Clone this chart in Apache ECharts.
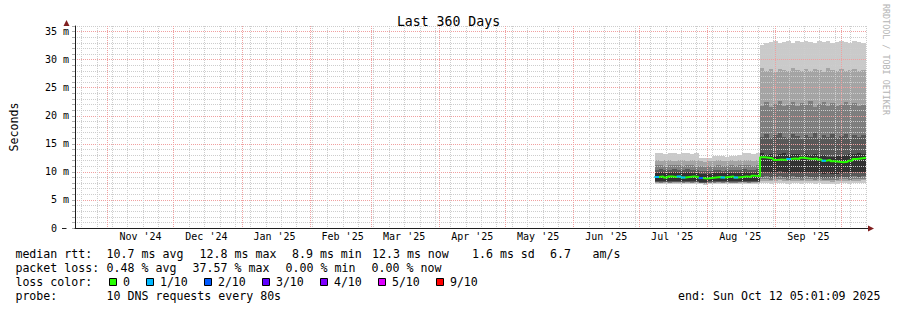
<!DOCTYPE html>
<html><head><meta charset="utf-8">
<script src="https://cdn.jsdelivr.net/npm/echarts@6/dist/echarts.min.js"></script>
<style>html,body{margin:0;padding:0;background:#fff}#c{width:897px;height:310px}</style>
</head><body><div id="c"></div>
<script>
// ---------------- DATA ----------------
const chartTitle = 'Last 360 Days';
const yAxisTitle = 'Seconds';
const endTimeStr = '2025-10-12 05:01:09';
const spanDays = 360;

// interval start dates (2-day buckets), last entry = end of last bucket
const dates = [
 '2025-07-08','2025-07-10','2025-07-12','2025-07-14','2025-07-16','2025-07-18','2025-07-20','2025-07-22',
 '2025-07-24','2025-07-26','2025-07-28','2025-07-30','2025-08-01','2025-08-03','2025-08-05','2025-08-07',
 '2025-08-09','2025-08-11','2025-08-13','2025-08-15','2025-08-17','2025-08-19','2025-08-21','2025-08-23',
 '2025-08-25','2025-08-27','2025-08-29','2025-08-31','2025-09-02','2025-09-04','2025-09-06','2025-09-08',
 '2025-09-10','2025-09-12','2025-09-14','2025-09-16','2025-09-18','2025-09-20','2025-09-22','2025-09-24',
 '2025-09-26','2025-09-28','2025-09-30','2025-10-02','2025-10-04','2025-10-06','2025-10-08','2025-10-10',
 '2025-10-12 05:01:09'
];
// sorted ping RTTs (ms), ping1 = fastest ... ping10 = slowest
const ping10 = [13.3,13.4,13.2,13.4,13.3,13.2,13.4,13.3,13.2,13.3,12.5,12.4,12.4,12.9,12.8,12.9,12.7,12.9,12.8,13.0,13.3,13.4,13.2,13.4,
                32.7,33.0,33.2,33.4,32.9,33.2,33.3,33.0,33.4,33.1,33.3,33.2,32.9,33.3,33.1,33.4,33.0,33.2,33.3,33.1,32.9,33.3,33.2,33.0];
const ping9  = [12.1,12.0,12.2,12.1,12.0,12.1,12.2,12.0,12.1,12.1,11.9,11.8,11.9,12.0,12.1,11.9,12.0,12.1,12.0,12.1,12.2,12.1,12.0,12.2,
                28.5,28.0,28.3,27.8,28.4,28.1,27.9,28.6,28.2,27.9,28.4,28.0,28.3,28.1,27.8,28.5,28.2,28.0,28.4,27.9,28.2,28.3,27.9,28.1];
const ping8  = [11.2,11.3,11.1,11.2,11.3,11.2,11.1,11.3,11.2,11.1,11.0,10.9,11.0,11.1,11.2,11.0,11.1,11.2,11.1,11.2,11.3,11.2,11.1,11.2,
                21.8,22.4,21.6,22.1,22.6,21.7,22.0,22.5,21.8,22.2,21.9,22.7,21.6,22.1,22.4,21.8,22.3,21.7,22.0,22.5,21.9,22.2,21.8,22.0];
const ping7  = [10.4,10.5,10.3,10.4,10.5,10.4,10.3,10.5,10.4,10.3,10.2,10.1,10.2,10.3,10.4,10.2,10.3,10.4,10.3,10.4,10.5,10.4,10.3,10.5,
                16.2,16.8,16.0,16.5,17.0,16.3,16.1,16.7,16.4,15.9,16.6,16.2,16.9,16.0,16.5,16.3,16.8,16.1,16.4,16.7,16.0,16.5,16.2,16.6];
const ping6  = [9.85,9.9,9.8,9.85,9.9,9.85,9.8,9.9,9.85,9.8,9.7,9.6,9.7,9.8,9.85,9.75,9.8,9.85,9.8,9.85,9.9,9.85,9.8,9.9,
                13.3,13.0,13.2,12.9,13.1,13.3,13.0,13.2,13.1,12.9,13.2,13.0,13.1,12.8,13.0,12.7,12.6,12.8,12.9,13.0,13.1,13.2,13.3,13.1];
const ping5  = [8.4,8.3,8.4,8.3,8.4,8.4,8.3,8.4,8.3,8.4,8.2,8.2,8.3,8.3,8.4,8.3,8.4,8.3,8.3,8.4,8.4,8.3,8.4,8.4,
                9.9,10.0,9.8,9.9,10.1,9.9,9.8,10.0,9.9,9.8,10.0,9.9,9.8,9.9,9.7,9.8,9.6,9.7,9.8,9.9,9.8,10.0,9.9,10.0];
const ping4  = [8.25,8.2,8.25,8.2,8.25,8.25,8.2,8.25,8.2,8.25,8.1,8.1,8.15,8.2,8.25,8.2,8.25,8.2,8.2,8.25,8.25,8.2,8.25,8.25,
                9.1,9.2,9.0,9.1,9.2,9.1,9.0,9.2,9.1,9.0,9.2,9.1,9.0,9.1,9.0,9.0,8.9,9.0,9.1,9.1,9.0,9.2,9.1,9.2];
const ping3  = [8.15,8.1,8.15,8.1,8.15,8.15,8.1,8.15,8.1,8.15,8.05,8.0,8.05,8.1,8.15,8.1,8.15,8.1,8.1,8.15,8.15,8.1,8.15,8.15,
                8.7,8.7,8.6,8.7,8.8,8.7,8.6,8.7,8.7,8.6,8.7,8.7,8.6,8.7,8.6,8.6,8.5,8.6,8.7,8.7,8.6,8.7,8.7,8.8];
const ping2  = [8.05,8.0,8.05,8.0,8.05,8.05,8.0,8.05,8.0,8.05,7.95,7.9,7.95,8.0,8.05,8.0,8.05,8.0,8.0,8.05,8.05,8.0,8.05,8.05,
                8.4,8.4,8.3,8.4,8.5,8.4,8.3,8.4,8.4,8.3,8.4,8.4,8.3,8.4,8.3,8.3,8.2,8.3,8.4,8.4,8.3,8.4,8.4,8.5];
const ping1  = [7.9,7.85,7.9,7.85,7.9,7.9,7.85,7.9,7.85,7.9,7.8,7.75,7.8,7.85,7.9,7.85,7.9,7.85,7.85,7.9,7.9,7.85,7.9,7.9,
                8.0,8.0,7.9,8.0,8.1,8.0,7.9,8.0,8.0,7.9,8.0,8.0,7.9,8.0,7.9,7.9,7.8,7.9,8.0,8.0,7.9,8.0,8.0,8.1];
const median = [9.1,9.2,9.0,9.2,9.1,9.2,9.0,9.1,9.2,9.1,8.9,8.8,8.9,9.0,9.1,9.0,9.1,9.2,9.0,9.1,9.2,9.1,9.3,9.2,
                12.6,12.5,12.4,12.1,12.2,12.1,12.3,12.4,12.3,12.5,12.4,12.3,12.4,12.2,12.0,12.1,11.9,11.8,11.7,11.8,12.0,12.3,12.4,12.5];
// packet loss per bucket, in tenths (0..10)
const lossTenths = [1,0,0,0,0,1,1,0,0,0,2,0,0,0,0,1,0,0,1,0,0,0,0,0,
                    0,0,0,0,0,0,1,0,0,0,0,0,0,0,1,0,0,0,0,0,0,0,0,0];

// axis ticks / labels
const monthStarts = ['2024-11-01','2024-12-01','2025-01-01','2025-02-01','2025-03-01','2025-04-01',
                     '2025-05-01','2025-06-01','2025-07-01','2025-08-01','2025-09-01','2025-10-01'];
const monthLabelDates = ['2024-11-16','2024-12-16','2025-01-16','2025-02-16','2025-03-16','2025-04-16',
                         '2025-05-16','2025-06-16','2025-07-16','2025-08-16','2025-09-16'];
const monthLabels = ["Nov '24","Dec '24","Jan '25","Feb '25","Mar '25","Apr '25","May '25","Jun '25","Jul '25","Aug '25","Sep '25"];
const firstWeekLine = '2024-10-20';
const yTickStep = 5;

// legend texts
const rttLabel = 'median rtt:';
const rttStats = ['10.7 ms avg','12.8 ms max','8.9 ms min','12.3 ms now','1.6 ms sd','6.7','am/s'];
const lossLabel = 'packet loss:';
const lossStats = ['0.48 % avg','37.57 % max','0.00 % min','0.00 % now'];
const lossColorLabel = 'loss color:';
const lossLegend = ['0','1/10','2/10','3/10','4/10','5/10','9/10'];
const lossColors = ['#26ff00','#00b8ff','#0059ff','#5e00ff','#7e00ff','#dd00ff','#ff0000'];
const probeLabel = 'probe:';
const probeText = '10 DNS requests every 80s';
const endText = 'end: Sun Oct 12 05:01:09 2025';
const watermark = 'RRDTOOL / TOBI OETIKER';

// ---------------- LAYOUT / STYLE ----------------
const FONT = 'DejaVu Sans Mono';
const GRID = {left: 66, top: 26, width: 800, height: 202};
const Y_MAX = 36;
const MINOR = '#cdcdcd', MAJOR = '#f0a0a0';
const smokeColors = ['#cacaca','#a4a4a4','#7e7e7e','#585858','#323232'];
const rttX = [106.6, 199.6, 292, 372, 472, 550, 592.6];
const lossX = [106.6, 192.6, 285.6, 371.6];
const rowY = [254.3, 268.3, 282.3, 296.3];

function ts(s) {
  const parts = s.split(' ');
  const d = parts[0].split('-').map(Number);
  let h = 0, mi = 0, se = 0;
  if (parts[1]) { const t = parts[1].split(':').map(Number); h = t[0]; mi = t[1]; se = t[2]; }
  return Date.UTC(d[0], d[1] - 1, d[2], h, mi, se);
}
const endTime = ts(endTimeStr);
const startTime = endTime - spanDays * 86400000;
const T = dates.map(ts);
function stepData(vals) {
  const out = vals.map((v, i) => [T[i], v]);
  out.push([T[T.length - 1], vals[vals.length - 1]]);
  return out;
}
function lossLevel(v) { return v > 5 ? 6 : v; }

const series = [];
const pings = [ping1, ping2, ping3, ping4, ping5, ping6, ping7, ping8, ping9, ping10];
// smoke: band b spans ping(b+1) .. ping(10-b), one rectangle per time bucket
function bandRender(color) {
  return function (params, api) {
    const a = api.coord([api.value(0), api.value(3)]);
    const c = api.coord([api.value(1), api.value(2)]);
    const x0 = Math.round(a[0]), x1 = Math.round(c[0]);
    const y0 = Math.round(a[1]), y1 = Math.round(c[1]);
    return {type: 'rect', shape: {x: x0, y: y0, width: x1 - x0, height: y1 - y0}, style: {fill: color}};
  };
}
for (let b = 0; b < 5; b++) {
  const lo = pings[b], hi = pings[9 - b];
  const data = lo.map((v, i) => [T[i], T[i + 1], v, hi[i]]);
  series.push({type: 'custom', data: data, encode: {x: [0, 1], y: [2, 3]}, renderItem: bandRender(smokeColors[b]),
    silent: true, z: 2, animation: false});
}

// vertical grid lines (weeks minor, months major)
const gridData = [];
for (let t = ts(firstWeekLine); t < endTime; t += 7 * 86400000) gridData.push([t, 0]);
monthStarts.forEach(s => gridData.push([ts(s), 1]));
series.push({
  type: 'custom', data: gridData, silent: true, z: 3, animation: false,
  encode: {x: 0},
  renderItem: function (params, api) {
    const t = api.value(0), major = api.value(1);
    const p0 = api.coord([t, 0]);
    const p1 = api.coord([t, Y_MAX]);
    const x = Math.round(p0[0]) + 0.5;
    return {type: 'line', shape: {x1: x, y1: p1[1], x2: x, y2: p0[1] + 2},
      style: {stroke: major ? MAJOR : MINOR, lineWidth: 1, lineDash: [1, 1]}, z2: major ? 2 : 1};
  }
});

// median line (green) + loss colored overlays
series.push({type: 'line', data: stepData(median), step: 'end', symbol: 'none',
  lineStyle: {color: lossColors[0], width: 2}, z: 5, silent: true, animation: false});
for (let L = 1; L < lossColors.length; L++) {
  const d = [];
  lossTenths.forEach((v, i) => {
    if (lossLevel(v) === L) { d.push([T[i], median[i]]); d.push([T[i + 1], median[i]]); d.push([T[i + 1], '-']); }
  });
  if (d.length) series.push({type: 'line', data: d, step: 'end', symbol: 'none',
    lineStyle: {color: lossColors[L], width: 2}, z: 6, silent: true, animation: false});
}

// ---------------- GRAPHIC (legend text etc.) ----------------
function txt(text, x, y, opts) {
  opts = opts || {};
  return {type: 'text', x: x, y: y, rotation: opts.rotation || 0, silent: true, z: 10,
    style: {text: text, fill: opts.fill || '#000', fontSize: opts.size || 11.6, fontFamily: FONT,
      align: opts.align || 'left', verticalAlign: 'middle', textAlign: opts.align || 'left', textVerticalAlign: 'middle'}};
}
const graphic = [];
graphic.push(txt(rttLabel, 15.4, rowY[0]));
rttStats.forEach((s, i) => graphic.push(txt(s, rttX[i], rowY[0])));
graphic.push(txt(lossLabel, 15.4, rowY[1]));
lossStats.forEach((s, i) => graphic.push(txt(s, lossX[i], rowY[1])));
graphic.push(txt(lossColorLabel, 15.4, rowY[2]));
let bx = 109.5;
lossLegend.forEach((s, i) => {
  graphic.push({type: 'rect', shape: {x: bx, y: rowY[2] - 3.8, width: 7, height: 7}, silent: true, z: 10,
    style: {fill: lossColors[i], stroke: '#000', lineWidth: 1}});
  graphic.push(txt(s, bx + 13.4, rowY[2]));
  bx += 14 + s.length * 7 + 16;
});
graphic.push(txt(probeLabel, 15.4, rowY[3]));
graphic.push(txt(probeText, 106.6, rowY[3]));
graphic.push(txt(endText, 880.5, rowY[3], {align: 'right'}));
graphic.push(txt(watermark, 886, 4, {rotation: -Math.PI / 2, fill: '#b4b4b4', size: 8.4}));
// axis arrows
const gx0 = GRID.left + 0.5, gy0 = GRID.top + GRID.height + 0.5, gx1 = GRID.left + GRID.width;
graphic.push({type: 'line', shape: {x1: 62, y1: gy0, x2: gx0, y2: gy0}, style: {stroke: '#1f1f1f', lineWidth: 1}, silent: true, z: 10});
graphic.push({type: 'line', shape: {x1: gx1, y1: gy0, x2: gx1 + 3, y2: gy0}, style: {stroke: '#1f1f1f', lineWidth: 1}, silent: true, z: 10});
graphic.push({type: 'polygon', shape: {points: [[gx0 - 3, GRID.top], [gx0 + 3, GRID.top], [gx0, GRID.top - 6]]},
  style: {fill: '#801f1f'}, silent: true, z: 10});
graphic.push({type: 'polygon', shape: {points: [[gx1 + 2, gy0 - 3], [gx1 + 2, gy0 + 3], [gx1 + 8, gy0]]},
  style: {fill: '#801f1f'}, silent: true, z: 10});

const labelTs = monthLabelDates.map(ts);
const option = {
  backgroundColor: '#ffffff',
  animation: false,
  title: {text: chartTitle, left: 'center', top: 10,
    textStyle: {fontFamily: FONT, fontSize: 13.2, fontWeight: 'normal', color: '#000'}},
  grid: {left: GRID.left, top: GRID.top, width: GRID.width, height: GRID.height, containLabel: false},
  xAxis: {
    type: 'value', min: startTime, max: endTime, z: 4,
    axisLine: {show: true, lineStyle: {color: '#1f1f1f', width: 1}},
    axisTick: {show: false},
    splitLine: {show: false},
    axisLabel: {
      show: true, customValues: labelTs, margin: 3, fontFamily: FONT, fontSize: 10, color: '#000',
      hideOverlap: false,
      formatter: function (v) {
        let best = 0, bd = Infinity;
        labelTs.forEach((t, i) => { const dd = Math.abs(t - v); if (dd < bd) { bd = dd; best = i; } });
        return monthLabels[best];
      }
    }
  },
  yAxis: {
    type: 'value', min: 0, max: Y_MAX, interval: 1, z: 3,
    name: yAxisTitle, nameLocation: 'middle', nameGap: 55,
    nameTextStyle: {fontFamily: FONT, fontSize: 11.6, color: '#000'},
    axisLine: {show: true, lineStyle: {color: '#1f1f1f', width: 1}},
    axisTick: {show: true, length: 3, lineStyle: {color: '#b0b0b0'}},
    splitLine: {show: true, lineStyle: {color: [MAJOR, MINOR, MINOR, MINOR, MINOR], type: [1, 1], width: 1}},
    axisLabel: {
      show: true, interval: 0, margin: 6, fontFamily: FONT, fontSize: 10, color: '#000',
      showMaxLabel: true,
      formatter: function (v) {
        if (v % yTickStep !== 0) return '';
        return v === 0 ? '0\u00a0\u00a0' : v + ' m';
      }
    }
  },
  series: series,
  graphic: graphic
};
const chart = echarts.init(document.getElementById('c'), null, {renderer: 'svg', width: 897, height: 310});
chart.setOption(option);
</script></body></html>
